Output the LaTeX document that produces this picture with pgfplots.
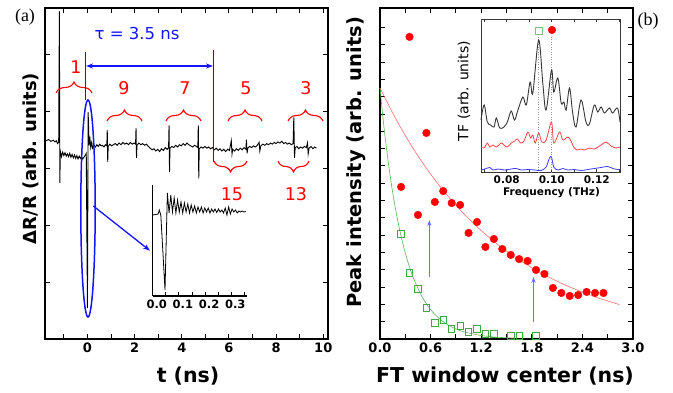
\documentclass[border=0pt]{standalone}
\usepackage{fontspec}
\setmainfont{DejaVu Sans}
\newfontfamily\seriffont{Liberation Serif}
\usepackage{pgfplots}
\pgfplotsset{compat=1.18}
\usetikzlibrary{decorations.pathreplacing,arrows.meta}
\definecolor{myred}{RGB}{255,0,0}
\definecolor{fitred}{RGB}{255,110,110}
\definecolor{mygreen}{RGB}{70,165,70}
\definecolor{fitgreen}{RGB}{90,180,90}
\definecolor{myblue}{RGB}{20,20,255}
\definecolor{lblue}{RGB}{110,110,255}
\definecolor{specblack}{RGB}{55,55,55}
\definecolor{specred}{RGB}{255,70,70}
\definecolor{specblue}{RGB}{60,60,255}
\pgfplotsset{
  myframe/.style={
    scale only axis, anchor=south west,
    tick align=inside, major tick length=5pt, minor tick length=5pt,
    axis line style={line width=1.2pt},
    every tick/.style={black, line width=1pt},
    tick label style={font=\fontsize{13}{13}\selectfont\bfseries},
    /pgf/number format/assume math mode=true,
  }
}
\begin{document}
\begin{tikzpicture}[x=1pt,y=1pt]
\useasboundingbox (0,0) rectangle (673,392);

% ================= panel (a) =================
\begin{axis}[myframe, at={(45pt,53pt)}, width=283pt, height=331pt,
  xmin=-1.8, xmax=10.2, ymin=0, ymax=5.81,
  xtick={0,2,4,6,8,10}, minor xtick={-1,1,3,5,7,9},
  ytick={1,2,3,4,5}, yticklabels={}, clip=false]
\addplot[black, line width=0.9pt] coordinates {
(-1.75,3.48) (-1.65,3.50) (-1.55,3.47) (-1.45,3.49) (-1.38,3.46) (-1.32,3.48)
(-1.27,3.43) (-1.22,3.45) (-1.19,5.75) (-1.17,2.74) (-1.15,3.30) (-1.10,3.20)
(-1.05,3.28) (-1.00,3.22) (-0.95,3.27) (-0.90,3.21) (-0.85,3.25) (-0.80,3.20)
(-0.75,3.26) (-0.70,3.19) (-0.65,3.24) (-0.60,3.18) (-0.55,3.23) (-0.50,3.17)
(-0.45,3.22) (-0.40,3.16) (-0.35,3.21) (-0.30,3.17) (-0.25,3.20) (-0.20,3.16)
(-0.15,3.19) (-0.10,3.22) (-0.05,3.26) (0.00,0.54) (0.03,3.98) (0.07,3.40)
(0.10,3.55) (0.14,3.36) (0.18,3.45) (0.22,3.35) (0.28,3.40) (0.34,3.37)
(0.40,3.41) (0.46,3.38) (0.52,3.42) (0.58,3.39) (0.64,3.40) (0.70,3.37)
(0.76,3.41) (0.82,3.39) (0.84,3.67) (0.86,3.11) (0.88,3.38) (0.95,3.42)
(1.02,3.39) (1.10,3.41) (1.18,3.43) (1.26,3.40) (1.34,3.44) (1.42,3.41)
(1.50,3.45) (1.58,3.42) (1.66,3.44) (1.74,3.41) (1.82,3.45) (1.90,3.42)
(1.98,3.44) (2.04,3.42) (2.06,3.70) (2.08,3.18) (2.10,3.40) (2.18,3.44)
(2.26,3.41) (2.34,3.43) (2.42,3.40) (2.50,3.42) (2.58,3.38) (2.66,3.35)
(2.74,3.32) (2.82,3.34) (2.90,3.30) (2.98,3.33) (3.06,3.29) (3.14,3.34)
(3.22,3.31) (3.30,3.36) (3.38,3.33) (3.44,3.36) (3.46,3.75) (3.48,2.93)
(3.50,3.35) (3.58,3.38) (3.66,3.36) (3.74,3.40) (3.82,3.37) (3.90,3.41)
(3.98,3.39) (4.06,3.43) (4.14,3.40) (4.22,3.44) (4.30,3.41) (4.38,3.39)
(4.46,3.37) (4.54,3.40) (4.62,3.38) (4.68,3.36) (4.70,3.75) (4.72,2.82)
(4.74,3.34) (4.82,3.37) (4.90,3.35) (4.98,3.38) (5.06,3.35) (5.14,3.37)
(5.22,3.34) (5.30,3.36) (5.38,3.32) (5.46,3.35) (5.54,3.31) (5.62,3.34)
(5.70,3.30) (5.78,3.33) (5.86,3.29) (5.94,3.33) (6.02,3.31) (6.10,3.48)
(6.13,3.25) (6.16,3.33) (6.24,3.30) (6.32,3.34) (6.40,3.31) (6.48,3.35)
(6.56,3.32) (6.64,3.36) (6.72,3.33) (6.74,3.50) (6.77,3.26) (6.80,3.35)
(6.88,3.38) (6.96,3.36) (7.04,3.39) (7.12,3.37) (7.20,3.40) (7.28,3.45)
(7.31,3.30) (7.35,3.39) (7.44,3.42) (7.52,3.40) (7.60,3.43) (7.68,3.41)
(7.76,3.44) (7.84,3.42) (7.92,3.45) (8.00,3.43) (8.08,3.46) (8.16,3.44)
(8.24,3.47) (8.32,3.43) (8.40,3.45) (8.48,3.42) (8.56,3.44) (8.64,3.41)
(8.72,3.43) (8.75,3.89) (8.78,3.18) (8.81,3.36) (8.88,3.38) (8.96,3.34)
(9.04,3.37) (9.12,3.35) (9.20,3.38) (9.28,3.36) (9.33,3.44) (9.36,3.25)
(9.40,3.35) (9.48,3.38) (9.56,3.34) (9.64,3.37) (9.71,3.35)
};
\end{axis}

% inset of (a)
\begin{axis}[scale only axis, anchor=south west, at={(152.7pt,96pt)},
  width=94.3pt, height=111pt,
  xmin=0, xmax=0.36, ymin=4, ymax=115,
  axis x line=bottom, axis y line=left,
  axis line style={-, line width=1.2pt},
  xtick={0,0.1,0.2,0.3}, minor xtick={0.05,0.15,0.25,0.35}, ytick=\empty,
  tick align=inside, major tick length=4pt, minor tick length=4pt,
  every tick/.style={black, line width=0.9pt},
  /pgf/number format/assume math mode=true,
  xticklabel style={font=\fontsize{11.5}{11.5}\selectfont\bfseries, xshift=4pt,
    /pgf/number format/.cd, fixed, fixed zerofill, precision=1}]
\addplot[black, line width=0.8pt] coordinates {
(0.000,85) (0.021,86) (0.025,90) (0.031,85) (0.047,10) (0.056,107)
(0.0625,87) (0.069,105) (0.0755,88) (0.082,102) (0.0885,87) (0.095,100)
(0.1015,88) (0.108,98) (0.1145,87) (0.121,97) (0.1275,88) (0.134,96)
(0.1405,87) (0.147,95) (0.1535,88) (0.160,94) (0.1665,87) (0.173,93)
(0.1795,88) (0.186,93) (0.1925,87) (0.199,92) (0.2055,88) (0.212,92)
(0.2185,87) (0.225,91) (0.2315,88) (0.238,91) (0.2445,87.5) (0.251,91)
(0.2575,88) (0.264,90) (0.2705,87) (0.277,92) (0.2835,85) (0.290,93)
(0.2965,86) (0.303,91) (0.3095,88) (0.316,90) (0.3225,87) (0.329,89)
(0.3355,88) (0.342,89) (0.3485,88) (0.355,88.5)
};
\end{axis}

% annotations (a)
\begin{scope}[red, line width=1.1pt]
\draw[decorate, decoration={brace, amplitude=11pt}] (56,299) -- (92,299);
\draw[decorate, decoration={brace, amplitude=11pt}] (107,271) -- (142,271);
\draw[decorate, decoration={brace, amplitude=11pt}] (166,271) -- (201,271);
\draw[decorate, decoration={brace, amplitude=11pt}] (228,271) -- (262,271);
\draw[decorate, decoration={brace, amplitude=11pt}] (288,271) -- (323,271);
\draw[decorate, decoration={brace, amplitude=11pt}] (247,231) -- (214,231);
\draw[decorate, decoration={brace, amplitude=11pt}] (309,231) -- (278,231);
\end{scope}
\begin{scope}[red, font=\fontsize{17.5}{17.5}\selectfont]
\node at (76,325) {1};
\node at (124,304) {9};
\node at (185,304) {7};
\node at (246,304) {5};
\node at (306,304) {3};
\node at (232,198) {15};
\node at (296,198) {13};
\end{scope}
\draw[myblue, line width=1.4pt] (85.7,340) -- (85.7,292);
\draw[myblue, line width=1.4pt] (213.3,342) -- (213.3,230);
\draw[myblue, line width=1.3pt, {Stealth[length=7pt,width=5pt]}-{Stealth[length=7pt,width=5pt]}] (86,326) -- (213,326);
\draw[myblue, line width=1.5pt] (88,183.5) ellipse [x radius=7.2, y radius=108.5];
\draw[myblue, line width=1.3pt, -{Stealth[length=7pt,width=5pt]}] (93.3,186) -- (150,141.3);
\node[myblue, font=\fontsize{16.5}{16.5}\selectfont] at (137,359) {τ = 3.5 ns};

% ================= panel (b) =================
\begin{axis}[myframe, at={(380pt,53pt)}, width=253pt, height=331pt,
  xmin=0, xmax=3.0, ymin=0, ymax=19.13,
  xtick={0,0.6,1.2,1.8,2.4,3.0}, minor xtick={0.3,0.9,1.5,2.1,2.7},
  ytick={1,2,3,4,5,6,7,8,9,10,11,12,13,14,15,16,17,18}, yticklabels={},
  xticklabel style={/pgf/number format/.cd, fixed, fixed zerofill, precision=1},
  clip=false]
\addplot[fitred, line width=0.6pt, smooth] coordinates {
(0,14.5) (0.2,12.61) (0.4,10.96) (0.6,9.53) (0.8,8.29) (1.0,7.21) (1.2,6.27)
(1.4,5.45) (1.6,4.74) (1.8,4.12) (2.0,3.58) (2.2,3.11) (2.4,2.71) (2.6,2.35) (2.84,1.99)
};
\addplot[fitgreen, line width=0.6pt, smooth] coordinates {
(0,14.5) (0.05,12.12) (0.1,10.15) (0.15,8.48) (0.2,7.10) (0.25,5.94) (0.3,4.97)
(0.35,4.16) (0.4,3.47) (0.5,2.43) (0.6,1.70) (0.7,1.19) (0.8,0.83) (0.9,0.58)
(1.0,0.41) (1.2,0.20) (1.4,0.10) (1.6,0.05)
};
\addplot[only marks, mark=*, mark size=3.8pt, color=myred] coordinates {
(0.25,8.79) (0.35,17.46) (0.45,7.17) (0.55,11.91) (0.65,7.92) (0.75,8.55)
(0.85,7.86) (0.95,7.75) (1.05,6.13) (1.15,6.76) (1.25,5.32) (1.35,5.78)
(1.45,5.20) (1.55,4.86) (1.65,4.62) (1.75,4.51) (1.85,3.99) (1.95,3.76)
(2.05,2.95) (2.15,2.66) (2.25,2.49) (2.35,2.54) (2.45,2.72) (2.55,2.66) (2.65,2.66)
};
\addplot[only marks, mark=square, mark size=3.2pt, color=mygreen, line width=0.8pt] coordinates {
(0.25,6.07) (0.35,3.82) (0.45,2.89) (0.55,1.79) (0.65,0.92) (0.75,1.10)
(0.85,0.58) (0.95,0.75) (1.05,0.40) (1.15,0.58) (1.25,0.29) (1.35,0.29)
(1.55,0.17) (1.65,0.17) (1.85,0.17)
};
\draw[lblue, line width=1.2pt, -{Stealth[length=6pt,width=4pt]}] (axis cs:0.585,3.6) -- (axis cs:0.585,6.88);
\draw[lblue, line width=1.2pt, -{Stealth[length=6pt,width=4pt]}] (axis cs:1.82,1.0) -- (axis cs:1.82,3.6);
\end{axis}

% inset of (b)
\begin{axis}[scale only axis, anchor=south west, at={(481pt,220pt)},
  width=139pt, height=153pt,
  xmin=0.0686, xmax=0.1303, ymin=0, ymax=153,
  xtick={0.08,0.10,0.12}, minor xtick={0.07,0.09,0.11,0.13}, ytick=\empty,
  tick align=inside, major tick length=3pt, minor tick length=3pt,
  axis line style={line width=0.9pt, specblack},
  every tick/.style={specblack, line width=0.6pt},
  axis background/.style={fill=white},
  /pgf/number format/assume math mode=true,
  xticklabel style={font=\fontsize{10.5}{10.5}\selectfont\bfseries,
    /pgf/number format/.cd, fixed, fixed zerofill, precision=2},
  clip=false]
\draw[black!40, dotted, line width=0.5pt] (axis cs:0.0942,0) -- (axis cs:0.0942,136);
\draw[black!40, dotted, line width=0.5pt] (axis cs:0.1000,0) -- (axis cs:0.1000,136);
\addplot[specblack, line width=0.9pt, smooth, tension=0.55] coordinates {
(0.0686,52) (0.0700,67) (0.0714,50) (0.0729,47) (0.0744,45) (0.0754,54)
(0.0769,44) (0.0788,45) (0.0803,50) (0.0820,61) (0.0835,52) (0.0850,62)
(0.0872,75) (0.0887,67) (0.0904,90) (0.0916,79) (0.0942,132) (0.0961,87)
(0.0975,62) (0.0999,102) (0.1009,80) (0.1027,94) (0.1042,69) (0.1054,70)
(0.1064,62) (0.1079,84) (0.1093,59) (0.1108,45) (0.1130,72) (0.1152,50)
(0.1167,48) (0.1189,67) (0.1204,60) (0.1219,65) (0.1234,59) (0.1256,64)
(0.1270,59) (0.1292,64) (0.1303,50)
};
\addplot[specred, line width=0.8pt, smooth, tension=0.55] coordinates {
(0.0686,25) (0.0700,24) (0.0714,29) (0.0725,25) (0.0739,27) (0.0754,25)
(0.0776,29) (0.0788,27) (0.0803,25) (0.0820,29) (0.0835,31) (0.0847,33)
(0.0862,29) (0.0877,31) (0.0894,40) (0.0906,34) (0.0916,37) (0.0927,29)
(0.0942,39) (0.0956,30) (0.0975,32) (0.0999,50) (0.1009,29) (0.1035,40)
(0.1049,32) (0.1071,35) (0.1083,32) (0.1098,25) (0.1112,22) (0.1130,23)
(0.1145,22) (0.1167,24) (0.1189,23) (0.1219,27) (0.1241,30) (0.1263,26)
(0.1285,24) (0.1303,25)
};
\addplot[specblue, line width=0.8pt, smooth, tension=0.55] coordinates {
(0.0686,2) (0.0703,3) (0.0725,4.5) (0.0739,2) (0.0762,3) (0.0791,2)
(0.0820,3) (0.0842,3.5) (0.0865,2) (0.0894,2.5) (0.0924,2) (0.0953,1.5)
(0.0975,5) (0.0990,14) (0.0999,15) (0.1009,5) (0.1027,2) (0.1049,3.5)
(0.1071,2) (0.1101,2.5) (0.1130,1.5) (0.1174,3) (0.1219,4.5) (0.1248,5.5)
(0.1278,3) (0.1303,2.5)
};
\addplot[only marks, mark=square, mark size=3.2pt, color=mygreen!70, line width=0.7pt] coordinates {(0.0942,141)};
\addplot[only marks, mark=*, mark size=3.8pt, color=myred] coordinates {(0.1001,142)};
\end{axis}

% axis labels & panel labels
\node[rotate=90, font=\fontsize{18}{18}\selectfont\bfseries] at (31,233.5) {ΔR/R (arb. units)};
\node[font=\fontsize{20.5}{20.5}\selectfont\bfseries] at (188,16) {t (ns)};
\node[rotate=90, font=\fontsize{19.5}{19.5}\selectfont\bfseries] at (356,229.5) {Peak intensity (arb. units)};
\node[font=\fontsize{20.5}{20.5}\selectfont\bfseries] at (505,16) {FT window center (ns)};
\node[rotate=90, font=\fontsize{14}{14}\selectfont] at (464,301) {TF (arb. units)};
\node[font=\fontsize{10.5}{10.5}\selectfont\bfseries] at (551.5,199) {Frequency (THz)};
\node[font=\seriffont\fontsize{18}{18}\selectfont] at (25,375) {(a)};
\node[font=\seriffont\fontsize{18}{18}\selectfont] at (648,371) {(b)};
\end{tikzpicture}
\end{document}
